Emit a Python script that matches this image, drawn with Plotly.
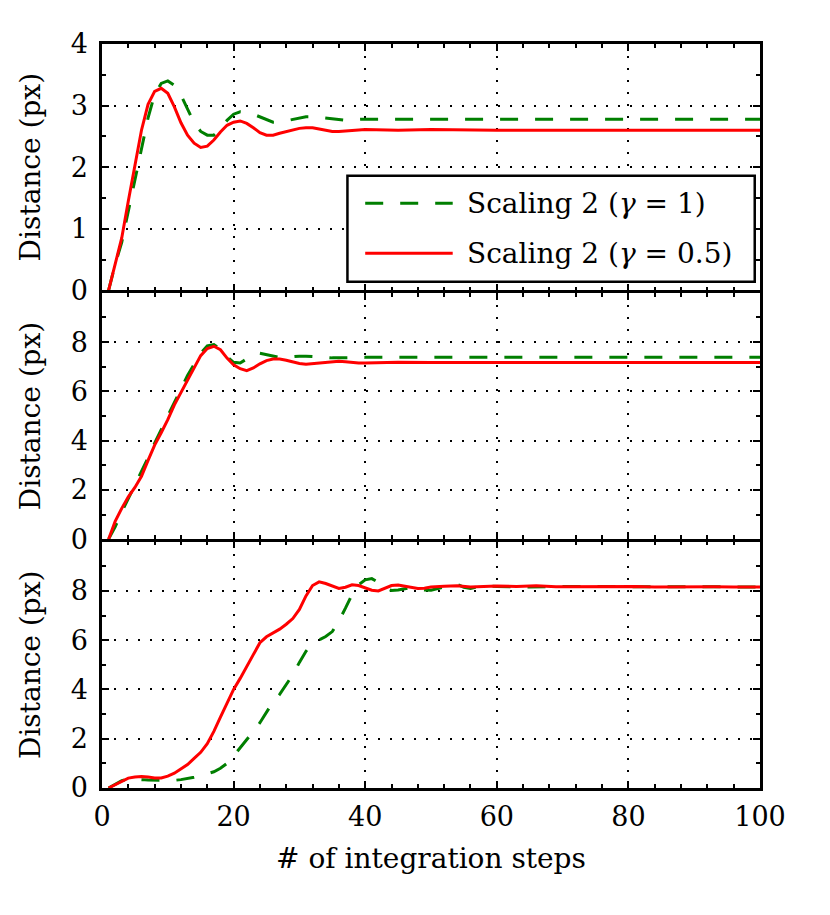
import plotly.graph_objects as go
from plotly.subplots import make_subplots

# values (step number, distance in px)
steps_top_g = [1, 2, 3, 4, 5, 6, 7, 8, 9, 10, 11, 12, 13, 14, 15, 16, 17, 18, 19, 20,
               21, 22, 23, 24, 25, 26, 27, 28, 29, 30, 31, 32, 33, 34, 35, 36, 37, 38, 40,
               45, 50, 60, 70, 80, 90, 100]
dist_top_g = [0, 0.42, 0.78, 1.28, 1.80, 2.30, 2.80, 3.18, 3.36, 3.40, 3.33, 3.17, 2.95, 2.72,
              2.58, 2.52, 2.52, 2.62, 2.76, 2.86, 2.90, 2.89, 2.86, 2.82, 2.77, 2.73, 2.73,
              2.75, 2.78, 2.80, 2.82, 2.82, 2.81, 2.80, 2.78, 2.77, 2.76, 2.77, 2.78,
              2.78, 2.78, 2.78, 2.78, 2.78, 2.78, 2.78]

steps_top_r = [1, 2, 3, 4, 5, 6, 7, 8, 9, 10, 11, 12, 13, 14, 15, 16, 17, 18, 19, 20,
               21, 22, 23, 24, 25, 26, 27, 28, 29, 30, 31, 32, 33, 34, 35, 36, 37, 38, 39, 40,
               45, 50, 60, 70, 80, 90, 100]
dist_top_r = [0, 0.45, 0.85, 1.45, 2.05, 2.60, 3.02, 3.23, 3.28, 3.20, 2.98, 2.72, 2.52, 2.39,
              2.32, 2.34, 2.44, 2.57, 2.68, 2.73, 2.75, 2.71, 2.64, 2.56, 2.52, 2.52, 2.55,
              2.58, 2.61, 2.63, 2.64, 2.64, 2.62, 2.60, 2.58, 2.58, 2.59, 2.60, 2.61, 2.61,
              2.60, 2.61, 2.60, 2.60, 2.60, 2.60, 2.60]

steps_mid_g = [1, 2, 3, 4, 5, 6, 7, 8, 9, 10, 11, 12, 13, 14, 15, 16, 17, 18, 19, 20,
               21, 22, 23, 24, 25, 26, 27, 28, 29, 30, 31, 32, 33, 34, 35, 36, 37, 38, 40,
               45, 50, 60, 70, 80, 90, 100]
dist_mid_g = [0, 0.50, 1.10, 1.65, 2.15, 2.70, 3.30, 3.90, 4.45, 5.00, 5.60, 6.15, 6.65, 7.10,
              7.55, 7.85, 7.90, 7.72, 7.40, 7.18, 7.15, 7.32, 7.50, 7.55, 7.50, 7.43, 7.38,
              7.38, 7.41, 7.43, 7.43, 7.41, 7.39, 7.37, 7.36, 7.36, 7.37, 7.38, 7.38,
              7.38, 7.38, 7.38, 7.38, 7.38, 7.38, 7.38]

steps_mid_r = [1, 2, 3, 4, 5, 6, 7, 8, 9, 10, 11, 12, 13, 14, 15, 16, 17, 18, 19, 20,
               21, 22, 23, 24, 25, 26, 27, 28, 29, 30, 31, 32, 33, 34, 35, 36, 37, 38, 39, 40,
               42, 45, 50, 60, 70, 80, 90, 100]
dist_mid_r = [0, 0.72, 1.25, 1.72, 2.10, 2.55, 3.20, 3.82, 4.32, 4.85, 5.45, 5.95, 6.45, 6.92,
              7.45, 7.74, 7.83, 7.69, 7.35, 7.08, 6.92, 6.84, 6.95, 7.12, 7.25, 7.31, 7.31,
              7.26, 7.19, 7.13, 7.10, 7.12, 7.15, 7.19, 7.21, 7.22, 7.20, 7.17, 7.15, 7.15,
              7.17, 7.18, 7.17, 7.17, 7.17, 7.17, 7.17, 7.17]

steps_bot_g = [1, 2, 3, 4, 5, 6, 7, 8, 9, 10, 11, 12, 13, 14, 15, 16, 17, 18, 19, 20,
               21, 22, 23, 24, 25, 26, 27, 28, 29, 30, 31, 32, 33, 34, 35, 36, 37, 38, 39, 40,
               41, 42, 43, 44, 45, 46, 47, 48, 49, 50, 51, 52, 53, 54, 55, 56, 57, 58, 60,
               65, 70, 80, 90, 100]
dist_bot_g = [0, 0.15, 0.30, 0.36, 0.36, 0.34, 0.32, 0.31, 0.30, 0.30, 0.31, 0.34, 0.38, 0.44,
              0.50, 0.57, 0.66, 0.80, 1.00, 1.30, 1.62, 1.97, 2.30, 2.65, 3.08, 3.50, 3.80,
              4.20, 4.60, 5.10, 5.55, 5.88, 6.02, 6.15, 6.35, 6.78, 7.30, 7.85, 8.25, 8.45,
              8.50, 8.35, 8.12, 8.02, 8.04, 8.10, 8.14, 8.10, 8.04, 8.03, 8.08, 8.16, 8.24,
              8.26, 8.15, 8.10, 8.16, 8.20, 8.18, 8.16, 8.18, 8.16, 8.17, 8.16]

steps_bot_r = [1, 2, 3, 4, 5, 6, 7, 8, 9, 10, 11, 12, 13, 14, 15, 16, 17, 18, 19, 20,
               21, 22, 23, 24, 25, 26, 27, 28, 29, 30, 31, 32, 33, 34, 35, 36, 37, 38, 39, 40,
               41, 42, 43, 44, 45, 46, 47, 48, 49, 50, 52, 54, 56, 58, 60, 63, 66, 69, 72,
               75, 78, 81, 84, 87, 90, 93, 96, 100]
dist_bot_r = [0, 0.14, 0.28, 0.40, 0.45, 0.47, 0.45, 0.41, 0.41, 0.48, 0.60, 0.78, 0.95, 1.20,
              1.45, 1.80, 2.30, 2.88, 3.45, 4.00, 4.45, 4.92, 5.40, 5.90, 6.14, 6.30, 6.45,
              6.65, 6.88, 7.25, 7.80, 8.22, 8.37, 8.30, 8.20, 8.10, 8.15, 8.25, 8.22, 8.12,
              8.03, 8.00, 8.12, 8.22, 8.24, 8.19, 8.13, 8.10, 8.11, 8.16, 8.19, 8.21, 8.16,
              8.18, 8.20, 8.18, 8.21, 8.17, 8.18, 8.16, 8.19, 8.18, 8.16, 8.17, 8.16, 8.17,
              8.16, 8.16]

series_names = ["Scaling 2 (<i>γ</i> = 1)", "Scaling 2 (<i>γ</i> = 0.5)"]
green = "#007f00"
red = "#ff0000"
dash = "18px,17px"
serif = "DejaVu Serif"

# small gap so the 2.5px frame lines of neighbouring panels land on top of each other
fig = make_subplots(rows=3, cols=1, shared_xaxes=True, vertical_spacing=0.0034)

panels = [(steps_top_g, dist_top_g, steps_top_r, dist_top_r),
          (steps_mid_g, dist_mid_g, steps_mid_r, dist_mid_r),
          (steps_bot_g, dist_bot_g, steps_bot_r, dist_bot_r)]
for i, (xg, yg, xr, yr) in enumerate(panels):
    fig.add_trace(go.Scatter(x=xg, y=yg, mode="lines", name=series_names[0], showlegend=False,
                             line=dict(color=green, width=3, dash=dash)), row=i + 1, col=1)
    fig.add_trace(go.Scatter(x=xr, y=yr, mode="lines", name=series_names[1], showlegend=False,
                             line=dict(color=red, width=3)), row=i + 1, col=1)

axis_common = dict(showline=True, linewidth=2.5, linecolor="black", mirror="ticks",
                   ticks="inside", ticklen=7, tickwidth=2, tickcolor="black",
                   showgrid=True, gridcolor="black", gridwidth=1.5, griddash="2px,10px",
                   zeroline=False, automargin=False,
                   tickfont=dict(family=serif, size=27, color="black"))

for r in range(1, 4):
    fig.update_xaxes(range=[0, 100], dtick=20, row=r, col=1,
                     minor=dict(dtick=4, ticks="inside", ticklen=4, tickwidth=1.5,
                                tickcolor="black", showgrid=False),
                     **axis_common)

fig.update_xaxes(title=dict(text="# of integration steps", standoff=18,
                            font=dict(family=serif, size=28, color="black")),
                 ticklabelstandoff=3, row=3, col=1)

fig.update_yaxes(range=[0, 4], dtick=1, row=1, col=1,
                 minor=dict(dtick=0.5, ticks="inside", ticklen=4, tickwidth=1.5,
                            tickcolor="black", showgrid=False), **axis_common)
for r in (2, 3):
    fig.update_yaxes(range=[0, 10], tickvals=[0, 2, 4, 6, 8], row=r, col=1,
                     minor=dict(dtick=1, ticks="inside", ticklen=4, tickwidth=1.5,
                                tickcolor="black", showgrid=False), **axis_common)
for r in (1, 2, 3):
    fig.update_yaxes(title=dict(text="Distance (px)", standoff=22,
                                font=dict(family=serif, size=28, color="black")),
                     ticklabelstandoff=6, row=r, col=1)

# legend drawn by hand in the top panel (box, line samples, labels)
leg_x0, leg_x1, leg_y0, leg_y1 = 0.373, 0.992, 0.6805, 0.823
fig.add_shape(type="rect", xref="paper", yref="paper", x0=leg_x0, x1=leg_x1, y0=leg_y0, y1=leg_y1,
              fillcolor="white", line=dict(color="black", width=2.5), layer="above")
entry_y = [0.786, 0.7187]
entry_style = [dict(color=green, width=3, dash=dash), dict(color=red, width=3)]
for name, ey, st in zip(series_names, entry_y, entry_style):
    fig.add_shape(type="line", xref="paper", yref="paper", x0=0.400, x1=0.533, y0=ey, y1=ey,
                  line=st, layer="above")
    fig.add_annotation(text=name, xref="paper", yref="paper", x=0.551, y=ey,
                       xanchor="left", yanchor="middle", showarrow=False,
                       font=dict(family=serif, size=28, color="black"))

# page body adds 8px offset, so margins are shifted to keep the plot box in place
fig.update_layout(width=830, height=915, plot_bgcolor="white", paper_bgcolor="white",
                  margin=dict(l=94, r=78, t=36, b=135),
                  font=dict(family=serif, size=27, color="black"))

fig.write_html("out.html")
